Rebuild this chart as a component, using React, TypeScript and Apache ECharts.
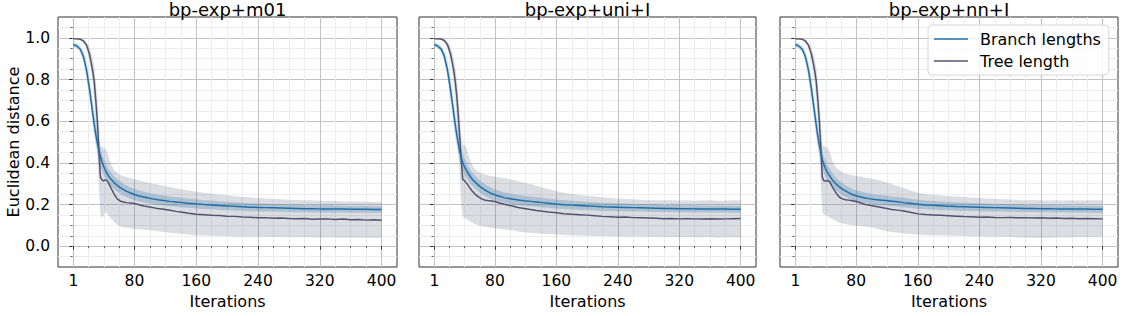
import React, { useEffect, useRef } from "react";
import * as echarts from "echarts";

// ---------- data ----------
const ITER = [1,5,10,14,18,22,26,28,30,32,34,36,38,40,42,44,46,48,50,54,58,62,66,70,75,80,86,92,98,104,110,118,126,134,142,150,160,170,180,190,200,210,220,230,240,250,260,270,280,290,300,310,320,330,340,350,360,370,380,390,400];

const TITLES = ["bp-exp+m01", "bp-exp+uni+I", "bp-exp+nn+I"];
const LEGEND = ["Branch lengths", "Tree length"];
const X_TICKS = [1, 80, 160, 240, 320, 400];
const X_MINOR = [20.75, 40.5, 60.25, 100, 120, 140, 180, 200, 220, 260, 280, 300, 340, 360, 380];
const Y_TICKS = [0, 0.2, 0.4, 0.6, 0.8, 1.0];
const Y_MINOR = [-0.05, 0.05, 0.1, 0.15, 0.25, 0.3, 0.35, 0.45, 0.5, 0.55, 0.65, 0.7, 0.75, 0.85, 0.9, 0.95, 1.05];

// half width of the branch-length band
const BL_SPREAD = [0.012,0.012,0.015,0.025,0.040,0.050,0.055, 0.055,0.052,0.048,0.045,0.042,0.040,0.038, 0.036,0.035,0.034,0.033,0.032, 0.031,0.030,0.029,0.028,0.028, 0.027,0.026,0.026,0.025,0.025, 0.024,0.024,0.024,0.023,0.023, 0.023,0.022,0.022,0.021,0.021, 0.021,0.020,0.020,0.020,0.019, 0.019,0.019,0.018,0.018,0.018, 0.018,0.017,0.017,0.017,0.017, 0.017,0.016,0.016,0.016,0.016, 0.016,0.016];

// panel 1
const P1_BL = [0.967,0.962,0.945,0.910,0.845,0.750,0.640, 0.585,0.535,0.495,0.460,0.430,0.405,0.385, 0.368,0.353,0.340,0.329,0.320, 0.304,0.291,0.280,0.271,0.263, 0.255,0.248,0.241,0.236,0.231, 0.227,0.223,0.219,0.215,0.212, 0.209,0.206,0.203,0.200,0.198, 0.195,0.193,0.191,0.189,0.187, 0.186,0.185,0.184,0.183,0.182, 0.181,0.180,0.180,0.179,0.179, 0.178,0.178,0.177,0.177,0.177, 0.176,0.176];
const P1_TL = [0.996,0.995,0.993,0.985,0.965,0.920,0.840, 0.790,0.700,0.600,0.460,0.330,0.318,0.313, 0.318,0.317,0.306,0.292,0.276, 0.248,0.226,0.216,0.212,0.209, 0.207,0.205,0.199,0.193,0.189, 0.185,0.181,0.177,0.172,0.167, 0.163,0.158,0.153,0.151,0.148, 0.147,0.144,0.143,0.140,0.139, 0.136,0.137,0.134,0.135,0.133, 0.132,0.133,0.129,0.130,0.131, 0.128,0.130,0.127,0.128,0.125, 0.127,0.124];
const P1_TL_LO = [0.993,0.992,0.988,0.976,0.948,0.885,0.780, 0.700,0.580,0.440,0.290,0.150,0.135,0.145, 0.165,0.160,0.150,0.140,0.130, 0.115,0.102,0.094,0.090,0.088, 0.086,0.083,0.081,0.079,0.077, 0.075,0.072,0.068,0.065,0.062, 0.059,0.056,0.052,0.051,0.050, 0.049,0.048,0.047,0.047,0.046, 0.045,0.046,0.044,0.045,0.044, 0.043,0.044,0.043,0.042,0.043, 0.042,0.041,0.042,0.040,0.041, 0.040,0.040];
const P1_TL_HI = [0.999,0.998,0.997,0.993,0.980,0.955,0.900, 0.860,0.790,0.700,0.590,0.478,0.476,0.472, 0.470,0.462,0.440,0.412,0.390, 0.366,0.351,0.342,0.336,0.331, 0.326,0.322,0.316,0.311,0.305, 0.300,0.296,0.290,0.284,0.278, 0.272,0.267,0.261,0.256,0.252, 0.248,0.244,0.240,0.237,0.234, 0.231,0.229,0.227,0.225,0.223, 0.222,0.220,0.221,0.218,0.217, 0.218,0.215,0.214,0.215,0.213, 0.212,0.211];

// panel 2
const P2_BL = [0.967,0.962,0.946,0.912,0.848,0.755,0.645, 0.590,0.540,0.497,0.455,0.425,0.402,0.383, 0.370,0.356,0.344,0.333,0.323, 0.308,0.294,0.282,0.272,0.263, 0.253,0.246,0.240,0.233,0.229, 0.225,0.222,0.218,0.215,0.212, 0.209,0.206,0.202,0.199,0.197, 0.195,0.193,0.191,0.189,0.188, 0.187,0.186,0.185,0.184,0.183, 0.182,0.181,0.181,0.180,0.180, 0.179,0.179,0.178,0.178,0.178, 0.177,0.177];
const P2_TL = [0.996,0.995,0.994,0.987,0.968,0.925,0.850, 0.800,0.730,0.640,0.530,0.420,0.320,0.316, 0.306,0.298,0.287,0.276,0.266, 0.250,0.238,0.228,0.222,0.219, 0.217,0.214,0.207,0.201,0.196, 0.192,0.186,0.181,0.176,0.171, 0.168,0.164,0.160,0.156,0.153, 0.151,0.149,0.146,0.143,0.141, 0.139,0.140,0.137,0.136,0.135, 0.134,0.132,0.133,0.131,0.132, 0.131,0.130,0.132,0.130,0.131, 0.132,0.133];
const P2_TL_LO = [0.993,0.992,0.989,0.978,0.952,0.890,0.790, 0.720,0.610,0.480,0.340,0.200,0.144,0.138, 0.133,0.128,0.122,0.117,0.112, 0.106,0.100,0.097,0.094,0.092, 0.089,0.086,0.083,0.080,0.078, 0.075,0.071,0.067,0.064,0.062, 0.060,0.058,0.056,0.054,0.052, 0.051,0.050,0.049,0.049,0.048, 0.048,0.047,0.046,0.046,0.045, 0.045,0.044,0.044,0.043,0.044, 0.043,0.043,0.044,0.042,0.043, 0.043,0.043];
const P2_TL_HI = [0.999,0.998,0.997,0.994,0.982,0.958,0.905, 0.870,0.810,0.730,0.640,0.540,0.487,0.486, 0.482,0.462,0.432,0.410,0.392, 0.370,0.358,0.350,0.345,0.341, 0.337,0.334,0.330,0.326,0.322, 0.318,0.313,0.306,0.298,0.290, 0.282,0.274,0.264,0.257,0.251, 0.246,0.242,0.238,0.235,0.231, 0.228,0.226,0.225,0.223,0.222, 0.221,0.220,0.221,0.219,0.220, 0.218,0.219,0.220,0.218,0.219, 0.220,0.219];

// panel 3
const P3_BL = [0.967,0.962,0.945,0.910,0.845,0.750,0.640, 0.585,0.530,0.485,0.450,0.415,0.392,0.374, 0.358,0.346,0.335,0.324,0.314, 0.298,0.285,0.274,0.265,0.257, 0.248,0.242,0.236,0.231,0.227, 0.224,0.222,0.219,0.216,0.213, 0.209,0.206,0.201,0.198,0.196, 0.194,0.192,0.190,0.189,0.188, 0.187,0.186,0.185,0.184,0.183, 0.182,0.181,0.181,0.180,0.180, 0.179,0.179,0.178,0.178,0.178, 0.177,0.177];
const P3_TL = [0.996,0.995,0.993,0.985,0.965,0.920,0.845, 0.795,0.710,0.610,0.480,0.330,0.314,0.312, 0.315,0.313,0.306,0.292,0.279, 0.255,0.236,0.227,0.223,0.221, 0.218,0.214,0.207,0.200,0.196, 0.192,0.188,0.182,0.176,0.173, 0.169,0.163,0.155,0.152,0.150, 0.148,0.146,0.144,0.142,0.141, 0.139,0.140,0.138,0.137,0.138, 0.136,0.137,0.135,0.136,0.134, 0.135,0.133,0.134,0.132,0.133, 0.132,0.131];
const P3_TL_LO = [0.993,0.992,0.988,0.976,0.948,0.885,0.785, 0.710,0.600,0.460,0.310,0.160,0.152,0.148, 0.145,0.141,0.137,0.132,0.128, 0.120,0.114,0.109,0.106,0.103, 0.101,0.099,0.097,0.095,0.091, 0.086,0.080,0.073,0.068,0.064, 0.061,0.058,0.056,0.054,0.053, 0.052,0.051,0.050,0.049,0.048, 0.048,0.047,0.046,0.045,0.044, 0.043,0.042,0.041,0.040,0.041, 0.042,0.043,0.042,0.044,0.043, 0.044,0.045];
const P3_TL_HI = [0.999,0.998,0.997,0.993,0.980,0.955,0.900, 0.862,0.795,0.705,0.600,0.485,0.480,0.478, 0.475,0.466,0.452,0.425,0.400, 0.378,0.364,0.354,0.348,0.344, 0.340,0.337,0.334,0.330,0.326, 0.321,0.316,0.308,0.298,0.288, 0.278,0.268,0.257,0.250,0.246, 0.243,0.240,0.238,0.236,0.233, 0.231,0.229,0.227,0.225,0.224, 0.222,0.221,0.222,0.220,0.219, 0.220,0.219,0.221,0.219,0.220, 0.221,0.220];

const PANELS = [
  { bl: P1_BL, tl: P1_TL, lo: P1_TL_LO, hi: P1_TL_HI },
  { bl: P2_BL, tl: P2_TL, lo: P2_TL_LO, hi: P2_TL_HI },
  { bl: P3_BL, tl: P3_TL, lo: P3_TL_LO, hi: P3_TL_HI },
];

// ---------- style ----------
const FONT = "DejaVu Sans";
const BLUE = "#1f6fa6";
const SLATE = "#50536e";
const GREY_BAND = "rgba(80,83,110,0.2)";
const BLUE_BAND = "rgba(31,111,166,0.25)";
const GRID_LEFT = [58, 419, 780];
const GRID_WIDTH = [339, 337, 338];
const GRID_TOP = 17;
const GRID_HEIGHT = 250;
const X_MIN = -18.95;
const X_MAX = 419.95;

function bandSeries(i: number, lower: number[], upper: number[], color: string, z: number) {
  return {
    type: "custom",
    xAxisIndex: i * 2,
    yAxisIndex: i * 2,
    silent: true,
    z,
    clip: true,
    data: ITER.map((x, k) => [x, lower[k], upper[k]]),
    encode: { x: 0, y: [1, 2] },
    renderItem: (params: any, api: any) => {
      if (params.dataIndex !== 0) return null;
      const pts: number[][] = [];
      for (let k = 0; k < ITER.length; k++) pts.push(api.coord([ITER[k], upper[k]]));
      for (let k = ITER.length - 1; k >= 0; k--) pts.push(api.coord([ITER[k], lower[k]]));
      return { type: "polygon", shape: { points: pts }, style: { fill: color, stroke: "none" } };
    },
  };
}

function buildOption() {
  const grid: any[] = [];
  const xAxis: any[] = [];
  const yAxis: any[] = [];
  const series: any[] = [];
  const graphic: any[] = [];

  PANELS.forEach((p, i) => {
    grid.push({
      left: GRID_LEFT[i], top: GRID_TOP, width: GRID_WIDTH[i], height: GRID_HEIGHT,
      show: true, borderColor: "#333", borderWidth: 1, backgroundColor: "rgba(0,0,0,0)",
      outerBoundsMode: "none", containLabel: false,
    });
    xAxis.push({
      type: "value", gridIndex: i, min: X_MIN, max: X_MAX, position: "bottom",
      axisLine: { show: false },
      axisTick: { show: true, customValues: X_TICKS, length: 3.5, lineStyle: { color: "#333", width: 1 } },
      axisLabel: { show: true, customValues: X_TICKS, fontSize: 15.5, color: "#000", fontFamily: FONT, margin: 6 },
      splitLine: { show: true, lineStyle: { color: "#c2c2c2", width: 1 } },
      name: "Iterations", nameLocation: "middle", nameGap: 23,
      nameTextStyle: { fontSize: 16, color: "#000", fontFamily: FONT },
    });
    xAxis.push({
      type: "value", gridIndex: i, min: X_MIN, max: X_MAX, position: "bottom",
      axisLine: { show: false },
      axisTick: { show: true, customValues: X_MINOR, length: 2, lineStyle: { color: "#333", width: 0.8 } },
      axisLabel: { show: false },
      splitLine: { show: true, lineStyle: { color: "#ededed", width: 1 } },
    });
    yAxis.push({
      type: "value", gridIndex: i, min: -0.1, max: 1.1, position: "left",
      axisLine: { show: false },
      axisTick: { show: true, customValues: Y_TICKS, length: 3.5, lineStyle: { color: "#333", width: 1 } },
      axisLabel: {
        show: i === 0, customValues: Y_TICKS, fontSize: 15.5, color: "#000", fontFamily: FONT, margin: 8,
        formatter: (v: number) => v.toFixed(1),
      },
      splitLine: { show: true, lineStyle: { color: "#c2c2c2", width: 1 } },
      name: i === 0 ? "Euclidean distance" : "", nameLocation: "middle", nameGap: 36, nameRotate: 90,
      nameTextStyle: { fontSize: 16, color: "#000", fontFamily: FONT },
    });
    yAxis.push({
      type: "value", gridIndex: i, min: -0.1, max: 1.1, position: "left",
      axisLine: { show: false },
      axisTick: { show: true, customValues: Y_MINOR, length: 2, lineStyle: { color: "#333", width: 0.8 } },
      axisLabel: { show: false },
      splitLine: { show: true, lineStyle: { color: "#ededed", width: 1 } },
    });

    const xi = i * 2;
    const common = {
      type: "line", xAxisIndex: xi, yAxisIndex: xi, symbol: "none", showSymbol: false,
      silent: true, emphasis: { disabled: true },
    };
    series.push(bandSeries(i, p.lo, p.hi, GREY_BAND, 2));
    series.push(bandSeries(i, p.bl.map((v, k) => v - BL_SPREAD[k]), p.bl.map((v, k) => v + BL_SPREAD[k]), BLUE_BAND, 3));
    series.push({ ...common, name: LEGEND[1], color: SLATE, z: 4,
      data: ITER.map((x, k) => [x, p.tl[k]]), lineStyle: { color: SLATE, width: 1.5 } });
    series.push({ ...common, name: LEGEND[0], color: BLUE, z: 5,
      data: ITER.map((x, k) => [x, p.bl[k]]), lineStyle: { color: BLUE, width: 1.5 } });

    graphic.push({
      type: "text", x: GRID_LEFT[i] + GRID_WIDTH[i] / 2, y: 9.5, z: 10,
      style: { text: TITLES[i], fontSize: 18, fontFamily: FONT, fill: "#000",
        align: "center", verticalAlign: "middle", textAlign: "center", textVerticalAlign: "middle" },
    });
  });

  return {
    animation: false,
    textStyle: { fontFamily: FONT },
    grid, xAxis, yAxis, series, graphic,
    legend: {
      data: LEGEND.map((n) => ({ name: n, icon: "rect" })),
      orient: "vertical", left: 928, top: 25,
      itemWidth: 34, itemHeight: 1.6, itemGap: 6,
      padding: [6, 8, 6, 6],
      backgroundColor: "rgba(255,255,255,0.8)", borderColor: "#d6d6d6", borderWidth: 1, borderRadius: 4,
      textStyle: { fontSize: 16, color: "#000", fontFamily: FONT, padding: [0, 0, 0, 7] },
      selectedMode: false,
    },
  };
}

export default function App() {
  const ref = useRef<HTMLDivElement>(null);
  useEffect(() => {
    if (!ref.current) return;
    const chart = echarts.init(ref.current, undefined, { renderer: "svg" });
    chart.setOption(buildOption() as any);
    return () => chart.dispose();
  }, []);
  return (
    <div
      ref={ref}
      style={{ position: "absolute", left: 0, top: 0, width: 1124, height: 316, background: "#fff" }}
    />
  );
}
